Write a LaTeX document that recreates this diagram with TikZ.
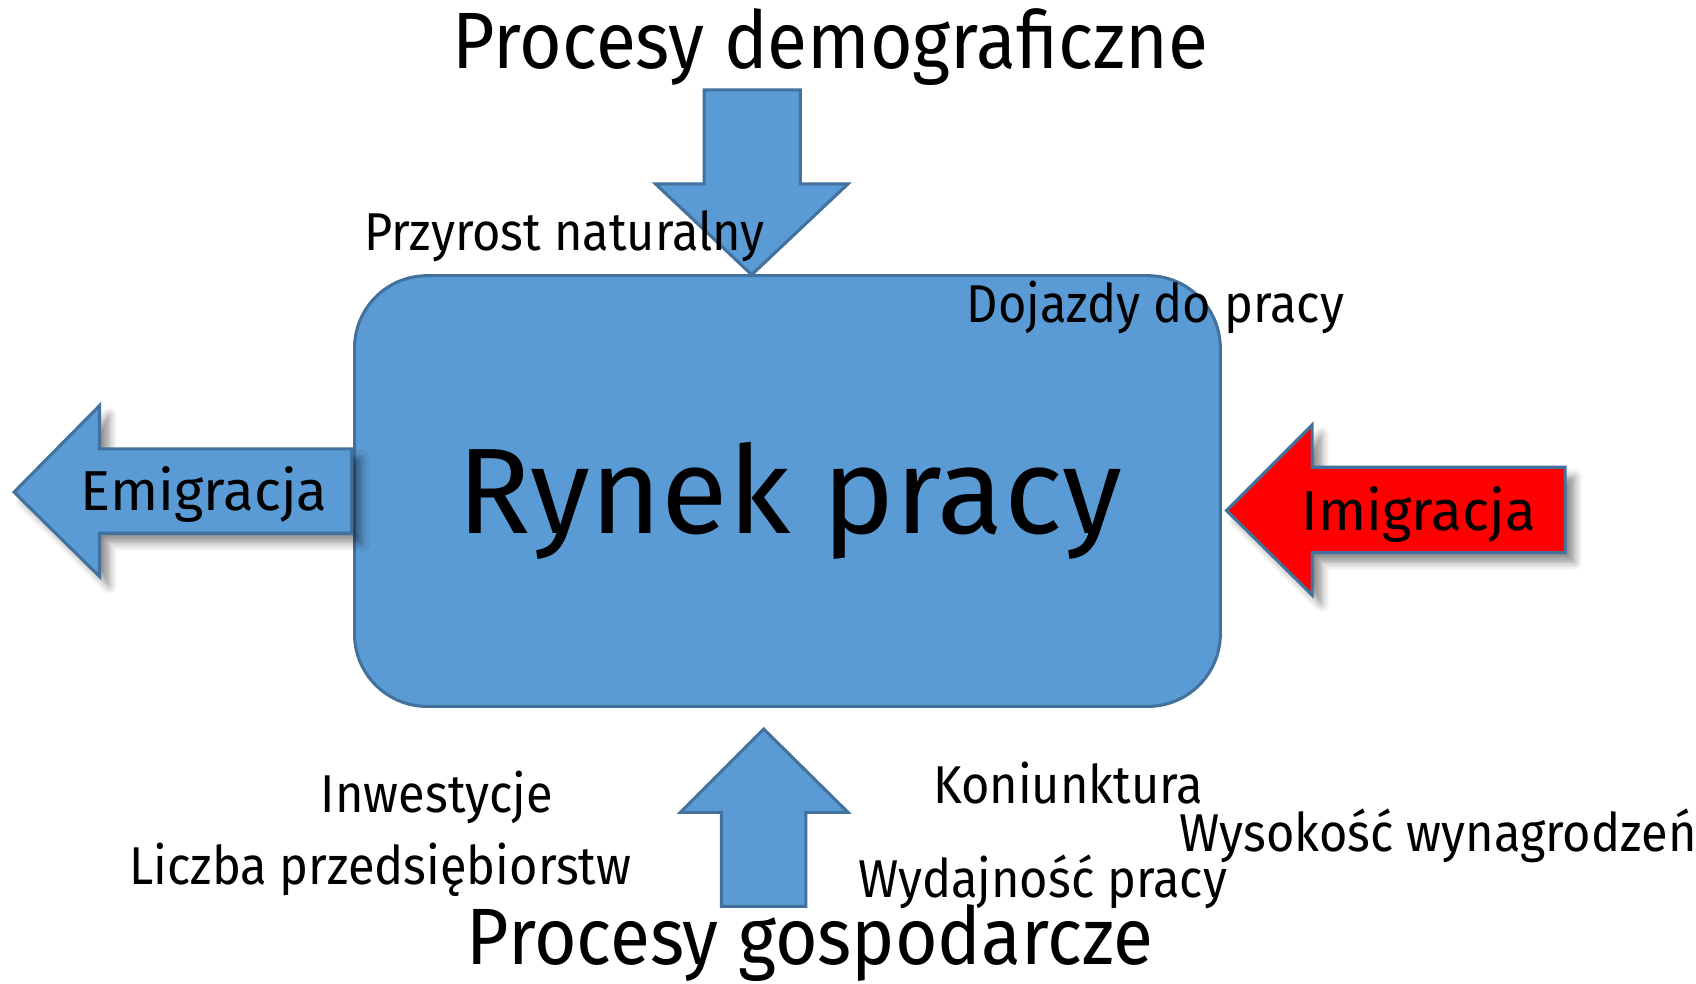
\documentclass[tikz,border=0pt]{standalone}
\usepackage{fontspec}
\setmainfont{Fira Sans}
\newfontfamily\narrowfira[FakeStretch=0.915]{Fira Sans}
\usepackage{xcolor}
\usetikzlibrary{shadows.blur}

\definecolor{rynekblue}{HTML}{5B9BD5}
\definecolor{rynekedge}{HTML}{41719C}

\begin{document}
\begin{tikzpicture}[x=0.01cm, y=-0.01cm, line join=miter,
  block/.style={fill=rynekblue, draw=rynekedge, line width=0.8pt},
  shadowed/.style={blur shadow={shadow xshift=2.5pt, shadow yshift=-2.5pt, shadow blur steps=6, shadow opacity=45}},
  title/.style={font=\narrowfira\fontsize{21}{25}\selectfont, anchor=base west, inner sep=0pt},
  arrowtext/.style={font=\fontsize{14.8}{18}\selectfont, anchor=base west, inner sep=0pt},
  factor/.style={font=\narrowfira\fontsize{14}{17}\selectfont, anchor=base west, inner sep=0pt}]

\useasboundingbox (0,0) rectangle (1568,909);

% rynek pracy
\node [block, rounded corners=0.67cm, minimum width=8cm, minimum height=3.98cm] (rynek) at (728,454) {};
\node [font=\fontsize{32}{38}\selectfont, anchor=base, inner sep=0pt] (rynek-text) at (730,493) {Rynek pracy};

% strzalki
\draw [block] (651,83) -- (740,83) -- (740,170) -- (784,170) -- (695,254) -- (606,170) -- (651,170) -- cycle;
\draw [block] (706,674) -- (784,751) -- (745,751) -- (745,838) -- (667,838) -- (667,751) -- (629,751) -- cycle;
\draw [block, shadowed] (13,455) -- (92,375) -- (92,415) -- (325,415) -- (325,493) -- (92,493) -- (92,533) -- cycle;
\draw [block, shadowed, fill=red] (1134,472) -- (1213,393) -- (1213,432) -- (1447,432) -- (1447,511) -- (1213,511) -- (1213,550) -- cycle;

\node [arrowtext] (emigracja) at (74,472) {Emigracja};
\node [arrowtext] (imigracja) at (1203,490) {Imigracja};

\node [title] (demografia) at (418,63) {Procesy demograficzne};
\node [title] (gospodarka) at (431,892) {Procesy gospodarcze};

\foreach \t/\x/\y [count=\i] in {
    Przyrost naturalny/336/232,
    Dojazdy do pracy/893/298,
    Inwestycje/296/751,
    Liczba przedsiębiorstw/119/818,
    Koniunktura/862/743,
    Wysokość wynagrodzeń/1090/787,
    Wydajność pracy/793/830}
  \node [factor] (factor-\i) at (\x,\y) {\t};

\end{tikzpicture}
\end{document}
